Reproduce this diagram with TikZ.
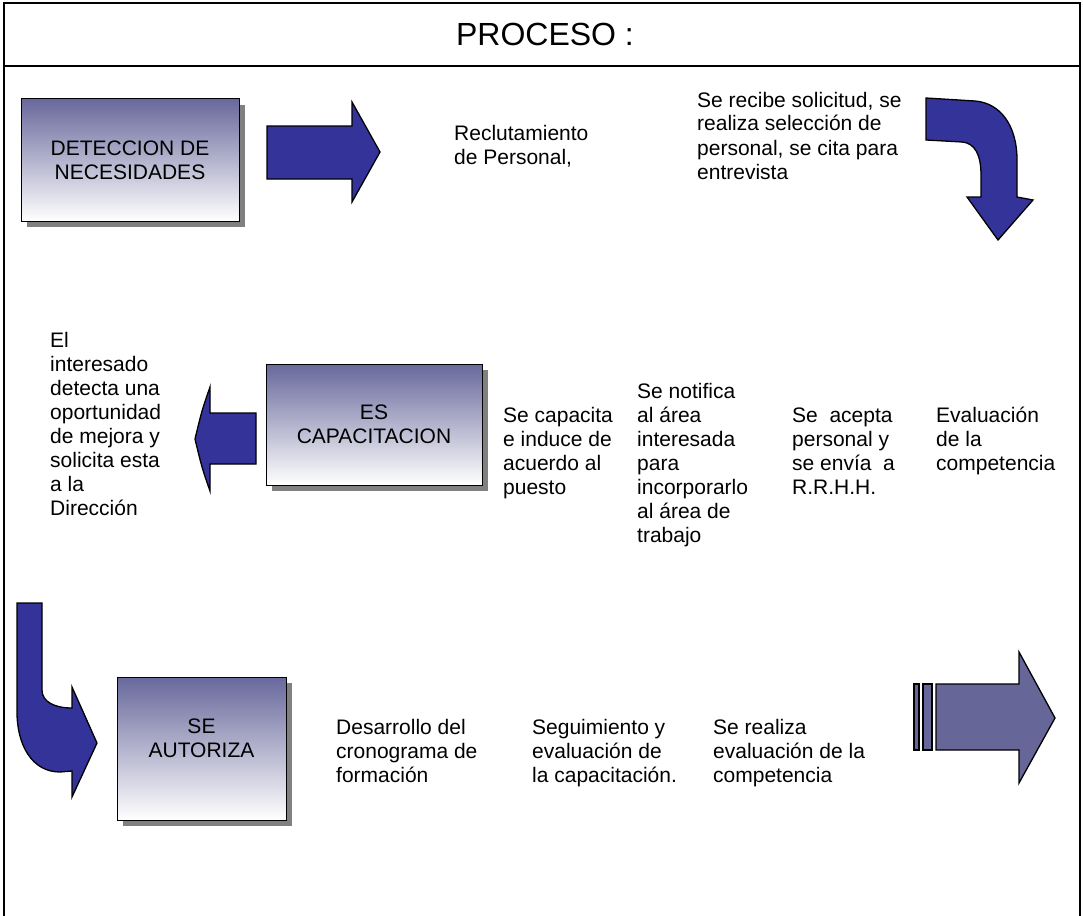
\documentclass[tikz,border=0pt]{standalone}
\usepackage{fontspec}
\setmainfont{Liberation Sans}
\usetikzlibrary{shadows}

\definecolor{arrowblue}{HTML}{333399}
\definecolor{arrowslate}{HTML}{666699}
\definecolor{boxtop}{HTML}{68689C}

\newcommand{\bodyfont}{\fontsize{21}{24}\selectfont}
% left-aligned block of lines whose baseline is the first line
\newcommand{\notelines}[1]{\begin{tabular}[t]{@{}l@{}}#1\end{tabular}}

\tikzset{
  procbox/.style={draw=black, line width=1pt, top color=boxtop, bottom color=white,
    drop shadow={shadow xshift=6pt, shadow yshift=-6pt, fill=black!50, opacity=1},
    align=center, font=\bodyfont, inner sep=0pt},
  blockarrow/.style={fill=arrowblue, draw=black, line width=1.3pt, line join=miter},
  slatearrow/.style={fill=arrowslate, draw=black, line width=1.3pt, line join=miter},
  note/.style={anchor=base west, inner sep=0pt, font=\bodyfont},
  frameline/.style={draw=black, line width=1.6pt},
}

\begin{document}
\begin{tikzpicture}[x=1pt, y=-1pt]
\useasboundingbox (0,0) rectangle (1083,915);

% frame and header
\draw[frameline] (4,916) -- (4,3) -- (1080,3) -- (1080,916);
\draw[frameline] (4,66) -- (1080,66);
\node[font=\fontsize{32}{36}\selectfont, anchor=base, inner sep=0pt] (title) at (545,46) {PROCESO :};

% ---------- first row ----------
\node[procbox, minimum width=218pt, minimum height=122pt] (detect) at (130,160) {DETECCION DE\\NECESIDADES};

\draw[blockarrow] (267,126) -- (352,126) -- (352,102) -- (380,152) -- (352,202) -- (352,179) -- (267,179) -- cycle;

\node[note] (recl) at (454,140) {\notelines{Reclutamiento\\de Personal,}};
\node[note] (recibe) at (697,107) {\notelines{Se recibe solicitud, se\\realiza selección de\\personal, se cita para\\entrevista}};

% curved arrow turning down
\draw[blockarrow] (926,98) -- (975,101) .. controls (1000,103) and (1017,125) .. (1017,160)
  -- (1017,197) -- (1033,200) -- (998,240) -- (967,197) -- (981,197) -- (981,175)
  .. controls (981,155) and (975,143) .. (962,142) -- (926,140) -- cycle;

% ---------- second row ----------
\node[note] (interes) at (50,347) {\notelines{El\\interesado\\detecta una\\oportunidad\\de mejora y\\solicita esta\\a la\\Dirección}};

\draw[blockarrow] (256,413) -- (210,413) -- (210,387) .. controls (202,410) .. (195,439)
  .. controls (202,468) .. (210,491) -- (210,464) -- (256,464) -- cycle;

\node[procbox, minimum width=216pt, minimum height=121pt] (capac) at (374,424.5) {ES\\CAPACITACION};

\node[note] (induce) at (503,422) {\notelines{Se capacita\\e induce de\\acuerdo al\\puesto}};
\node[note] (notif) at (637,398) {\notelines{Se notifica\\al área\\interesada\\para\\incorporarlo\\al área de\\trabajo}};
\node[note] (acepta) at (792,422) {\notelines{Se\ \ acepta\\personal y\\se envía\ \ a\\R.R.H.H.}};
\node[note] (evalc) at (936,422) {\notelines{Evaluación\\de la\\competencia}};

% ---------- third row ----------
\draw[blockarrow] (17,603) -- (42,603) -- (42,690) .. controls (42,702) and (55,708) .. (72,708)
  -- (72,687) -- (97,743) -- (72,797) -- (72,771) -- (60,772)
  .. controls (32,772) and (17,745) .. (17,712) -- cycle;

\node[procbox, minimum width=169pt, minimum height=143pt] (autz) at (201.5,748.5) {};
\node[align=center, font=\bodyfont, inner sep=0pt] (autztxt) at (201.5,738) {SE\\AUTORIZA};

\node[note] (crono) at (336,734) {\notelines{Desarrollo del\\cronograma de\\formación}};
\node[note] (seguim) at (532,734) {\notelines{Seguimiento y\\evaluación de\\la capacitación.}};
\node[note] (realiza) at (713,734) {\notelines{Se realiza\\evaluación de la\\competencia}};

% striped arrow
\draw[slatearrow] (914,684) rectangle (919,750);
\draw[slatearrow] (923,684) rectangle (932,750);
\draw[slatearrow] (936,684) -- (1019,684) -- (1019,652) -- (1055,718) -- (1019,783) -- (1019,750) -- (936,750) -- cycle;

\end{tikzpicture}
\end{document}
